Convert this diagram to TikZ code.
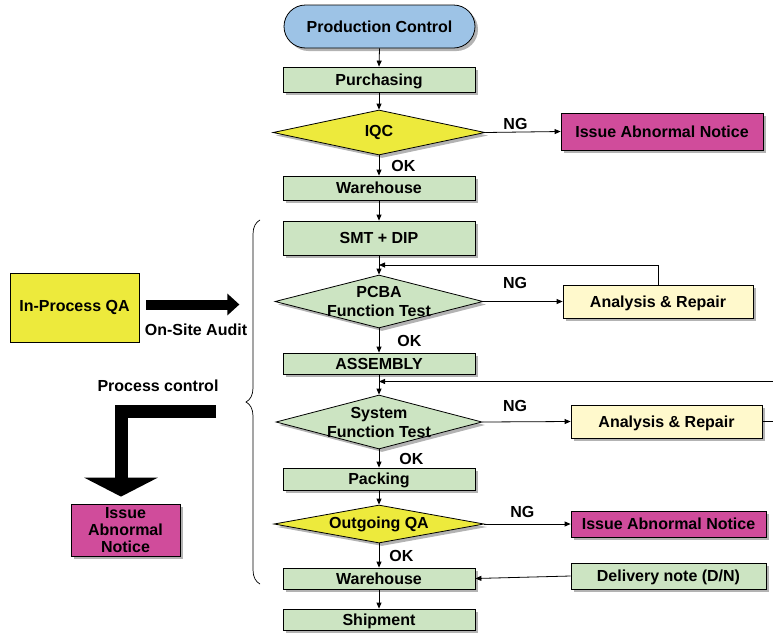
\documentclass[tikz,border=0pt]{standalone}
\usepackage{fontspec}
\setmainfont{Liberation Sans}
\usepackage[svgnames]{xcolor}
\usetikzlibrary{shapes.geometric, arrows.meta, shadows, decorations.pathreplacing, calc}

\definecolor{BoxGreen}{RGB}{204,228,194}
\definecolor{QAYellow}{RGB}{237,234,60}
\definecolor{NoticePink}{RGB}{208,76,155}
\definecolor{PillBlue}{RGB}{157,195,230}
\definecolor{RepairYellow}{RGB}{255,249,204}

\begin{document}
\begin{tikzpicture}[x=1pt, y=-1pt,
    font=\fontsize{16}{19}\selectfont\bfseries,
    casting/.style={drop shadow={shadow xshift=3pt, shadow yshift=-3pt, fill=Gray, opacity=.6}},
    box/.style={draw, line width=.8pt, inner sep=0pt, text depth=0pt, minimum width=192pt, casting},
    stage/.style={box, fill=BoxGreen},
    decision/.style={diamond, draw, line width=.8pt, inner sep=0pt, casting},
    mid/.style={align=center},
    lbl/.style={inner sep=1pt},
    flow/.style={-{Triangle[length=6pt, width=5pt]}, line width=.8pt},
    heavy/.style={-{Triangle[length=12pt, width=21pt]}, line width=10pt}]
    \useasboundingbox (0,0) rectangle (773,635);
    \node[box, fill=PillBlue, rounded corners=21.5pt, minimum width=191pt, minimum height=43pt] (prod) at (379.5,26.5) {Production Control};
    \node[stage, minimum height=25pt] (purch) at (379,79.5) {Purchasing};
    \node[decision, fill=QAYellow, minimum width=212pt, minimum height=45pt, label={center:IQC}] (iqc) at (379,132.5) {};
    \node[box, fill=NoticePink, minimum width=202pt, minimum height=37pt] (iqcnote) at (662,131.5) {Issue Abnormal Notice};
    \node[stage, minimum height=24pt] (wh1) at (379,188) {Warehouse};
    \node[stage, minimum height=34pt] (smt) at (379,238) {SMT + DIP};
    \node[decision, fill=BoxGreen, minimum width=208pt, minimum height=53pt, label={[mid]center:PCBA\\Function Test}] (pcba) at (379,301.5) {};
    \node[box, fill=RepairYellow, minimum width=190pt, minimum height=33pt] (rep1) at (658,301.5) {Analysis \& Repair};
    \node[stage, minimum height=21pt] (asm) at (379,363.5) {ASSEMBLY};
    \node[decision, fill=BoxGreen, minimum width=206pt, minimum height=54pt, label={[mid]center:System\\Function Test}] (sys) at (379,422) {};
    \node[box, fill=RepairYellow, minimum width=191pt, minimum height=33pt] (rep2) at (666.5,421.5) {Analysis \& Repair};
    \node[stage, minimum height=22pt] (pack) at (379,479) {Packing};
    \node[decision, fill=QAYellow, minimum width=210pt, minimum height=38pt, label={center:Outgoing QA}] (oqa) at (379,524) {};
    \node[box, fill=NoticePink, minimum width=195pt, minimum height=26pt] (oqanote) at (668.5,524) {Issue Abnormal Notice};
    \node[stage, minimum height=21pt] (wh2) at (379,578.5) {Warehouse};
    \node[box, fill=BoxGreen, minimum width=195pt, minimum height=26pt] (dn) at (668.5,576) {Delivery note (D/N)};
    \node[stage, minimum height=21pt] (ship) at (379,619.5) {Shipment};
    % left side
    \node[draw, line width=.8pt, fill=QAYellow, minimum width=129pt, minimum height=69pt] (inqa) at (74.5,307.5) {In-Process QA};
    \node[box, fill=NoticePink, minimum width=109pt, minimum height=52pt, align=center, font=\fontsize{16}{17}\selectfont\bfseries] (lnote) at (125.5,530) {Issue\\Abnormal\\Notice};
    \node (audit) at (196,330) {On-Site Audit};
    \node (pctrl) at (158,386) {Process control};
    \draw[decorate, decoration={brace, amplitude=14pt}, line width=.7pt] (260,584) -- (260,220);
    \draw[heavy] ([xshift=7pt, yshift=3pt]inqa.east) -- ++(93,0);
    \draw[heavy, line width=13pt, line join=miter, -{Triangle[length=19pt, width=73pt]}] (216,411) -| ([xshift=-4.5pt, yshift=7pt]lnote.north);
    % main flow
    \foreach \from/\to in {prod/purch, purch/iqc, wh1/smt, smt/pcba, asm/sys, pack/oqa, wh2/ship}
        \draw[flow] (\from.south) -- (\to.north);
    \draw[flow] (iqc.south) -- node[lbl, right=11pt] {OK} (wh1.north);
    \draw[flow] (pcba.south) -- node[lbl, right=17pt] {OK} (asm.north);
    \draw[flow] (sys.south) -- node[lbl, right=19pt] {OK} (pack.north);
    \draw[flow] (oqa.south) -- node[lbl, right=9pt] {OK} (wh2.north);
    \draw[flow] (iqc.east) -- node[lbl, above=1pt, pos=.4] {NG} (iqcnote.west);
    \draw[flow] (pcba.east) -- node[lbl, above=11pt, pos=.4] {NG} (rep1.west);
    \draw[flow] (sys.east) -- node[lbl, above=9pt, pos=.37] {NG} (rep2.west);
    \draw[flow] (oqa.east) -- node[lbl, above=5pt, pos=.44] {NG} (oqanote.west);
    % repair loops back into the line
    \draw[flow] (rep1.north) |- ($(smt.south)!.5!(pcba.north)$);
    \draw[flow] (rep2.east) -- ++(20,0) |- ($(asm.south)!.35!(sys.north)$);
    \draw[flow] (dn.west) -- (wh2.east);
\end{tikzpicture}
\end{document}
